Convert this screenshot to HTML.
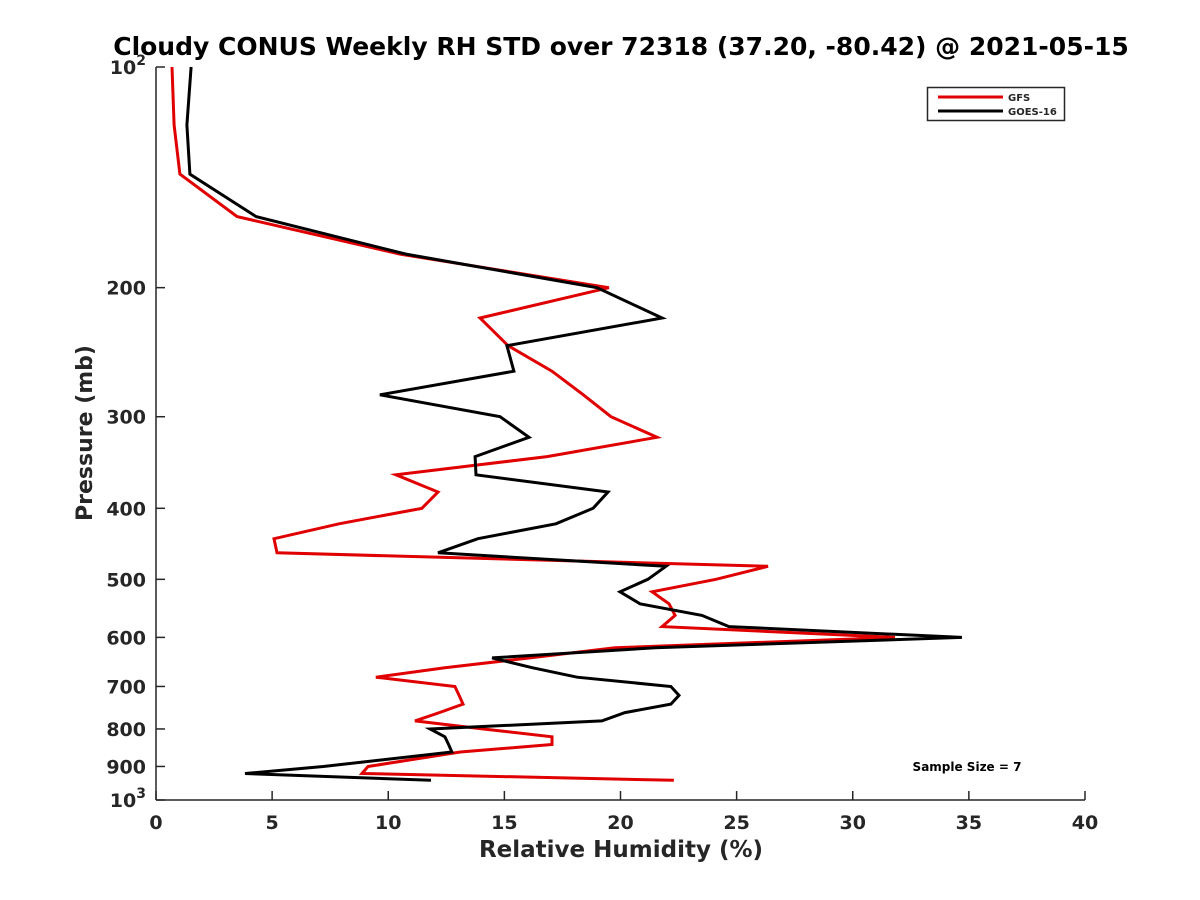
<!DOCTYPE html>
<html><head><meta charset="utf-8">
<style>
html,body{margin:0;padding:0;background:#fff;}
svg{display:block;}
text{font-family:"DejaVu Sans","Liberation Sans",sans-serif;font-weight:bold;fill:#262626;}
</style></head>
<body>
<svg id="chart" width="1200" height="900" viewBox="0 0 1200 900">
  <text x="621" y="55" text-anchor="middle" font-size="25" fill="#000" style="fill:#000">Cloudy CONUS Weekly RH STD over 72318 (37.20, -80.42) @ 2021-05-15</text>
  <g id="axes"></g>
  <g id="series"></g>
  <text x="621" y="857" text-anchor="middle" font-size="23">Relative Humidity (%)</text>
  <text transform="translate(92,433) rotate(-90)" text-anchor="middle" font-size="22">Pressure (mb)</text>
  <g>
    <rect x="927.5" y="87.5" width="137" height="33" fill="#fff" stroke="#262626" stroke-width="1.5"/>
    <line x1="938" y1="97" x2="1003" y2="97" stroke="#e00000" stroke-width="3"/>
    <text x="1008" y="101" font-size="10">GFS</text>
    <line x1="938" y1="111" x2="1003" y2="111" stroke="#000" stroke-width="3"/>
    <text x="1008" y="115" font-size="10">GOES-16</text>
  </g>
  <text x="967" y="771" text-anchor="middle" font-size="12" style="fill:#000">Sample Size = 7</text>
</svg>
<script>
const xTicks = [0,5,10,15,20,25,30,35,40];
const yTicks = [100,200,300,400,500,600,700,800,900,1000];
const yTickLabels = ["10^2","200","300","400","500","600","700","800","900","10^3"];
const gfsPressure = [100,120,140,160,180,200,220,240,260,280,300,320,340,360,380,400,420,440,460,480,500,520,540,560,580,600,620,640,660,680,700,720,740,760,780,800,820,840,860,900,920,940];
const gfsRH = [0.69,0.78,1.03,3.49,10.51,19.5,13.95,15.16,17.05,18.4,19.59,21.57,16.84,10.33,12.14,11.45,7.88,5.08,5.21,26.35,24.11,21.36,22.09,22.35,21.79,31.82,19.76,16.1,12.44,9.47,12.87,13.05,13.22,12.2,11.15,14.1,17.05,17.05,13.1,9.13,8.87,22.3];
const goesPressure = [100,120,140,160,180,200,220,240,260,280,300,320,340,360,380,400,420,440,460,480,500,520,540,560,580,600,620,640,660,680,700,720,740,760,780,800,820,840,860,900,920,940];
const goesRH = [1.51,1.33,1.46,4.31,10.76,18.99,21.79,15.11,15.41,9.64,14.81,16.06,13.74,13.78,19.46,18.82,17.22,13.86,12.14,21.96,21.18,19.98,20.84,23.51,24.67,34.7,21.5,14.47,16.2,18.13,22.17,22.52,22.17,20.19,19.2,11.8,12.44,12.6,12.74,7.2,3.83,11.84];

const NS = "http://www.w3.org/2000/svg";
const L = 156, R = 1085, T = 67, B = 800;
const xMin = 0, xMax = 40;
function xs(v){ return L + (v - xMin) / (xMax - xMin) * (R - L); }
function ys(p){ return T + (Math.log10(p) - 2) * (B - T); }
function mk(tag, attrs, parent){ const e = document.createElementNS(NS, tag); for (const k in attrs) e.setAttribute(k, attrs[k]); parent.appendChild(e); return e; }

const axes = document.getElementById('axes');
const xAxis = mk('line', {x1:L, y1:B, x2:R, y2:B, stroke:'#262626', 'stroke-width':1.5}, axes);


const yAxis = mk('line', {x1:L, y1:T, x2:L, y2:B, stroke:'#262626', 'stroke-width':1.5}, axes);



xTicks.forEach(v => {
  const x = xs(v);
  const t = mk('line', {x1:x, y1:B, x2:x, y2:B-9, stroke:'#262626', 'stroke-width':1.5}, axes);
  
  
  const lb = mk('text', {x:x, y:B+29, 'text-anchor':'middle', 'font-size':19}, axes);
  lb.textContent = String(v);
  
  
});
yTicks.forEach((p, i) => {
  const y = ys(p);
  const t = mk('line', {x1:L, y1:y, x2:L+9, y2:y, stroke:'#262626', 'stroke-width':1.5}, axes);
  
  
  const s = yTickLabels[i];
  const lb = mk('text', {x:L-10, y:y+7, 'text-anchor':'end', 'font-size':19}, axes);
  
  
  if (s.indexOf('^') >= 0) {
    const parts = s.split('^');
    const a = document.createElementNS(NS, 'tspan'); a.textContent = parts[0]; lb.appendChild(a);
    const b = document.createElementNS(NS, 'tspan'); b.textContent = parts[1];
    b.setAttribute('dy', '-9'); b.setAttribute('font-size', '14'); lb.appendChild(b);
  } else lb.textContent = s;
});

const series = document.getElementById('series');
function drawLine(P, V, color, name){
  const pts = P.map((p, i) => xs(V[i]).toFixed(1) + ',' + ys(p).toFixed(1)).join(' ');
  const pl = mk('polyline', {points:pts, fill:'none', stroke:color, 'stroke-width':3, 'stroke-linejoin':'miter'}, series);
  
  
}
drawLine(gfsPressure, gfsRH, '#e00000', 'gfs-line');
drawLine(goesPressure, goesRH, '#000000', 'goes16-line');
</script>
</body></html>
